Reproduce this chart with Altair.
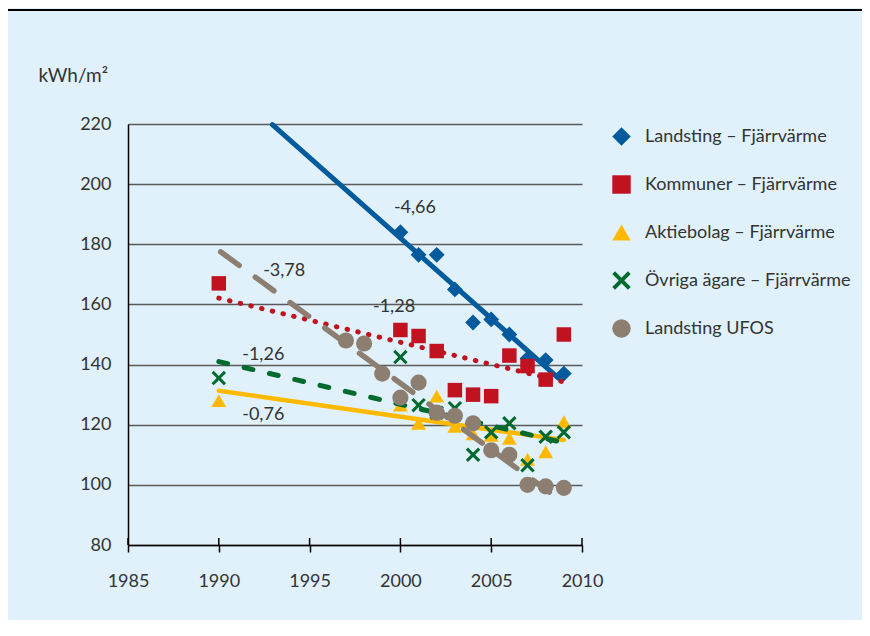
import altair as alt
import pandas as pd

# ---------------- data ----------------
series = [
    "Landsting – Fjärrvärme",
    "Kommuner – Fjärrvärme",
    "Aktiebolag – Fjärrvärme",
    "Övriga ägare – Fjärrvärme",
    "Landsting UFOS",
]
colors = ["#005a9c", "#c1121f", "#ffb900", "#006a2e", "#8c7e70"]

years_landsting = [2000, 2001, 2002, 2003, 2004, 2005, 2006, 2007, 2008, 2009]
vals_landsting = [184, 176.5, 176.5, 165, 154, 155, 150, 142, 141.5, 137]

years_kommuner = [1990, 2000, 2001, 2002, 2003, 2004, 2005, 2006, 2007, 2008, 2009]
vals_kommuner = [167, 151.5, 149.5, 144.5, 131.5, 130, 129.5, 143, 139.5, 135, 150]

years_aktie = [1990, 2000, 2001, 2002, 2003, 2004, 2005, 2006, 2007, 2008, 2009]
vals_aktie = [128, 126.5, 120.5, 129.5, 119.5, 117, 116.5, 115.5, 108.5, 111, 121]

years_ovriga = [1990, 2000, 2001, 2002, 2003, 2004, 2005, 2006, 2007, 2008, 2009]
vals_ovriga = [135.5, 142.5, 126.5, 124, 125.5, 110, 117.5, 120.5, 106.5, 116, 117.5]

years_ufos = [1997, 1998, 1999, 2000, 2001, 2002, 2003, 2004, 2005, 2006, 2007, 2008, 2009]
vals_ufos = [148, 147, 137, 129, 134, 124, 123, 120.5, 111.5, 110, 100, 99.5, 99]

# trend lines (end points)
trend_landsting_x = [1992.95, 2008.7]
trend_landsting_y = [219.8, 135.5]
trend_kommuner_x = [1990, 2009]
trend_kommuner_y = [162.1, 134.2]
trend_aktie_x = [1990, 2009]
trend_aktie_y = [131.3, 114.9]
trend_ovriga_x = [1990, 2009]
trend_ovriga_y = [141, 114]
trend_ufos_x = [1990.1, 2008.2]
trend_ufos_y = [177.5, 97.6]

# slope labels
label_text = ["-4,66", "-3,78", "-1,28", "-1,26", "-0,76"]
label_x = [2000.8, 1993.6, 1999.65, 1992.45, 1992.45]
label_y = [192.1, 171.1, 159.1, 143.2, 123.2]

x_ticks = [1985, 1990, 1995, 2000, 2005, 2010]
y_ticks = [80, 100, 120, 140, 160, 180, 200, 220]

# ---------------- build tables ----------------
point_sets = [
    (years_landsting, vals_landsting),
    (years_kommuner, vals_kommuner),
    (years_aktie, vals_aktie),
    (years_ovriga, vals_ovriga),
    (years_ufos, vals_ufos),
]
trend_sets = [
    (trend_landsting_x, trend_landsting_y),
    (trend_kommuner_x, trend_kommuner_y),
    (trend_aktie_x, trend_aktie_y),
    (trend_ovriga_x, trend_ovriga_y),
    (trend_ufos_x, trend_ufos_y),
]

x_path = ("M-1,-0.7L-0.7,-1L0,-0.3L0.7,-1L1,-0.7L0.3,0L1,0.7L0.7,1L0,0.3"
          "L-0.7,1L-1,0.7L-0.3,0Z")
shapes = ["diamond", "square", "triangle-up", x_path, "circle"]
mark_sizes = [250, 210, 220, 210, 260]

line_styles = [
    dict(strokeWidth=5, strokeCap="round"),
    dict(strokeWidth=5, strokeCap="round", strokeDash=[0.5, 10.5]),
    dict(strokeWidth=4.5, strokeCap="round"),
    dict(strokeWidth=5, strokeCap="round", strokeDash=[9, 17]),
    dict(strokeWidth=5.5, strokeCap="round", strokeDash=[23, 20]),
]

text_color = "#333333"

X = alt.X(
    "year:Q",
    scale=alt.Scale(domain=[1985, 2010], nice=False, zero=False),
    axis=alt.Axis(
        values=x_ticks, format="d", title=None, grid=False,
        domainColor="black", domainWidth=1.5,
        tickColor="black", tickWidth=1.5, tickSize=7,
        labelFontSize=18, labelColor=text_color, labelPadding=20,
        labelFlush=False,
    ),
)
Y = alt.Y(
    "value:Q",
    scale=alt.Scale(domain=[80, 220], nice=False, zero=False),
    axis=alt.Axis(
        values=y_ticks, title="kWh/m²", titleAngle=0, titleX=-90, titleY=-49,
        titleAlign="left", titleBaseline="middle", titleFontWeight="normal",
        titleFontSize=19, titleColor=text_color,
        grid=True, gridColor="#5a5a5a", gridWidth=1.5,
        domainColor="black", domainWidth=1.5, ticks=False,
        labelFontSize=18, labelColor=text_color, labelPadding=17,
    ),
)

legend = alt.Legend(
    title=None, orient="none", legendX=484, legendY=3,
    symbolSize=340, symbolStrokeWidth=0, labelFontSize=18,
    labelColor=text_color, labelOffset=14, rowPadding=29, padding=0,
    labelLimit=400,
)
color_enc = alt.Color("series:N", scale=alt.Scale(domain=series, range=colors),
                      sort=series, legend=legend)
shape_enc = alt.Shape("series:N", scale=alt.Scale(domain=series, range=shapes),
                      sort=series, legend=legend)

layers = []

tick_df = pd.DataFrame({"year": x_ticks})
layers.append(
    alt.Chart(tick_df).mark_rule(color="black", strokeWidth=1.5).encode(
        x=X, y=alt.value(421), y2=alt.value(414)
    )
)

for i, s in enumerate(series):
    yrs, vals = point_sets[i]
    pdf = pd.DataFrame({"year": yrs, "value": vals, "series": s})
    layers.append(
        alt.Chart(pdf).mark_point(filled=True, size=mark_sizes[i], opacity=1,
                                  strokeWidth=0).encode(
            x=X, y=Y, color=color_enc, shape=shape_enc
        )
    )
    tx, ty = trend_sets[i]
    tdf = pd.DataFrame({"year": tx, "value": ty})
    layers.append(
        alt.Chart(tdf).mark_line(color=colors[i], **line_styles[i]).encode(x=X, y=Y)
    )

lab_df = pd.DataFrame({"year": label_x, "value": label_y, "txt": label_text})
layers.append(
    alt.Chart(lab_df).mark_text(fontSize=18, color=text_color).encode(
        x=X, y=Y, text="txt:N"
    )
)

top_df = pd.DataFrame({"k": [0]})
layers.append(
    alt.Chart(top_df).mark_rule(color="black", strokeWidth=2).encode(
        x=alt.value(-120), x2=alt.value(740), y=alt.value(-114)
    )
)

chart = (
    alt.layer(*layers)
    .properties(
        width=454, height=421,
        autosize=alt.AutoSizeParams(type="none"),
        padding={"left": 120, "top": 116, "right": 280, "bottom": 75},
    )
    .configure(background="#e0f1fb", font="Lato")
    .configure_view(strokeWidth=0)
)

chart.save("out.html", embed_options={"renderer": "svg", "actions": False})
